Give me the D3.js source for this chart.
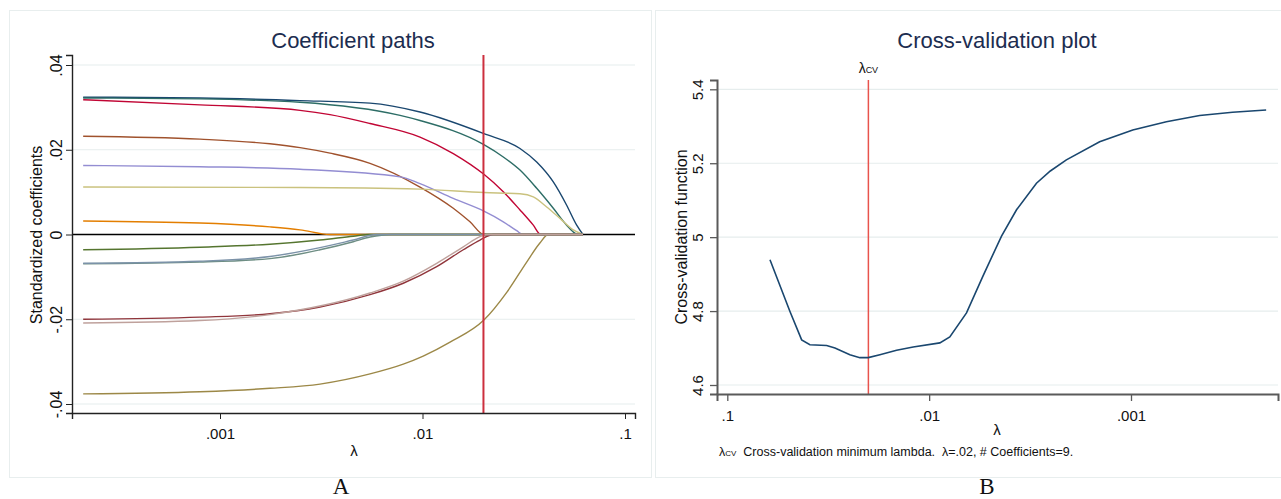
<!DOCTYPE html>
<html lang="en">
<head>
<meta charset="utf-8">
<script src="https://d3js.org/d3.v7.min.js"></script>
<title>Lasso coefficient paths and cross-validation</title>
<style>
  body { margin: 0; background: #fff; }
  svg text { font-family: "Liberation Sans", Arial, sans-serif; }
  svg text.panel-letter { font-family: "Liberation Serif", "Times New Roman", serif; }
</style>
</head>
<body>
<svg id="chart" width="1281" height="499"></svg>
<script>
// ---- data ----
// coefficient paths: [lambda, standardized coefficient]
var pathNavy = [[0.000211,0.0324],[0.000796,0.0322],[0.002484,0.0316],[0.005505,0.0310],[0.009721,0.0289],[0.0201,0.0238],[0.0303,0.0203],[0.03664,0.0171],[0.04425,0.0124],[0.05152,0.0069],[0.05773,0.0022],[0.062,0]];
var pathEmerald = [[0.000211,0.0322],[0.000796,0.0320],[0.002484,0.0312],[0.00775,0.0281],[0.009721,0.0269],[0.0201,0.0212],[0.02506,0.0183],[0.0303,0.0152],[0.03664,0.0109],[0.04425,0.0062],[0.05152,0.0022],[0.05663,0.0003],[0.0586,0],[0.062,0]];
var pathCranberry = [[0.000211,0.0318],[0.000796,0.0306],[0.002484,0.0293],[0.003493,0.0283],[0.005505,0.0262],[0.009721,0.0230],[0.01419,0.0191],[0.0201,0.0142],[0.02506,0.0101],[0.0303,0.0058],[0.03525,0.0022],[0.03835,0],[0.062,0]];
var pathSienna = [[0.000211,0.0232],[0.000796,0.0225],[0.001765,0.0214],[0.002484,0.0205],[0.003493,0.0192],[0.005505,0.0168],[0.009721,0.0112],[0.01419,0.0062],[0.01716,0.0030],[0.0201,0],[0.062,0]];
var pathLavender = [[0.000211,0.0163],[0.000796,0.0160],[0.002484,0.0154],[0.00775,0.0136],[0.009721,0.0120],[0.01419,0.0085],[0.0201,0.0055],[0.02506,0.0030],[0.02918,0.0009],[0.03134,0],[0.062,0]];
var pathKhaki = [[0.000211,0.0112],[0.002484,0.0111],[0.009721,0.0107],[0.0201,0.0099],[0.0303,0.0096],[0.03525,0.0089],[0.04105,0.0065],[0.04775,0.0038],[0.05555,0.0011],[0.062,0]];
var pathOrange = [[0.000211,0.0032],[0.000796,0.0027],[0.001765,0.0018],[0.002484,0.0011],[0.003493,0],[0.062,0]];
var pathGreen = [[0.000211,-0.0036],[0.000796,-0.0030],[0.001765,-0.0023],[0.003118,-0.0013],[0.004552,-0.0004],[0.005505,0],[0.062,0]];
var pathMaroon = [[0.000211,-0.0200],[0.000796,-0.0195],[0.001765,-0.0187],[0.003118,-0.0171],[0.005505,-0.0142],[0.008036,-0.0115],[0.01175,-0.0076],[0.0159,-0.0036],[0.01923,-0.0013],[0.02237,0],[0.062,0]];
var pathBrown = [[0.000211,-0.0376],[0.000796,-0.0371],[0.001765,-0.0363],[0.003118,-0.0353],[0.005505,-0.0329],[0.008036,-0.0306],[0.01008,-0.0287],[0.01368,-0.0254],[0.0201,-0.0202],[0.02612,-0.0136],[0.0327,-0.0065],[0.038,-0.0020],[0.0418,0],[0.062,0]];
var pathTeal = [[0.000211,-0.0069],[0.000796,-0.0065],[0.001765,-0.0057],[0.003118,-0.0036],[0.004552,-0.0017],[0.005505,-0.0006],[0.007046,0],[0.062,0]];
var pathBlue = [[0.000211,-0.0068],[0.000796,-0.0063],[0.001765,-0.0052],[0.003118,-0.0031],[0.004552,-0.0013],[0.00594,0],[0.062,0]];
var pathRose = [[0.000211,-0.0209],[0.000796,-0.0203],[0.001765,-0.0189],[0.005505,-0.0138],[0.008036,-0.0110],[0.01175,-0.0068],[0.0159,-0.0029],[0.01923,-0.0005],[0.02075,0],[0.062,0]];

var coefPaths = [pathNavy, pathEmerald, pathCranberry, pathSienna, pathLavender, pathKhaki, pathOrange, pathGreen, pathMaroon, pathBrown, pathTeal, pathBlue, pathRose];
var coefColors = ["#1a476f","#2d6d66","#c10534","#a0522d","#938dd2","#cac27e","#e37e00","#55752f","#90353b","#9c8847","#6e8e84","#7b92a8","#bfa19c"];

var coefTicks = [-0.04, -0.02, 0, 0.02, 0.04];
var coefTickLabels = ["-.04", "-.02", "0", ".02", ".04"];
var lambdaTicks = [0.001, 0.01, 0.1];
var lambdaTickLabels = [".001", ".01", ".1"];

// cross-validation function
var cvLambda = [0.06145,0.04893,0.04282,0.03897,0.03220,0.02929,0.02470,0.02204,0.02004,0.01754,0.01450,0.01200,0.00885,0.0079,0.00653,0.0054,0.00438,0.00369,0.00294,0.00251,0.00209,0.00143,0.00098,0.000668,0.000457,0.000314,0.000214];
var cvValue = [4.939,4.799,4.722,4.709,4.707,4.700,4.682,4.674,4.674,4.682,4.694,4.703,4.714,4.730,4.795,4.896,5.003,5.074,5.146,5.179,5.209,5.258,5.290,5.312,5.329,5.338,5.344];
var cvTicks = [4.6, 4.8, 5, 5.2, 5.4];
var cvTickLabels = ["4.6", "4.8", "5", "5.2", "5.4"];
var lambdaCV = 0.02;

var svg = d3.select("#chart");
var titleColor = "#1c2d50";
var gridColor = "#e6eded";

// panel frames
svg.append("rect").attr("x", 9.5).attr("y", 10.5).attr("width", 642).attr("height", 467)
   .attr("fill", "none").attr("stroke", "#e8eeee");
svg.append("rect").attr("x", 655.5).attr("y", 10.5).attr("width", 640).attr("height", 467)
   .attr("fill", "none").attr("stroke", "#e8eeee");

// ================= Panel A =================
var xA = d3.scaleLog().domain([0.001, 0.1]).range([220, 625]);
xA.domain([xA.invert(72), xA.invert(635)]).range([72, 635]);
var yA = d3.scaleLinear().domain([-0.04, 0.04]).range([404, 65]);
yA.domain([yA.invert(413), yA.invert(55)]).range([413, 55]);

var gA = svg.append("g");

gA.selectAll(".gridA").data(coefTicks).enter().append("line")
  .attr("x1", 72).attr("x2", 635)
  .attr("y1", function(d) { return yA(d); }).attr("y2", function(d) { return yA(d); })
  .attr("stroke", gridColor).attr("stroke-width", 1.2);

// zero reference line
gA.append("line").attr("x1", 72).attr("x2", 635).attr("y1", yA(0)).attr("y2", yA(0))
  .attr("stroke", "#000").attr("stroke-width", 1.6);

var lineA = d3.line()
  .x(function(d) { return xA(d[0]); })
  .y(function(d) { return yA(d[1]); })
  .curve(d3.curveMonotoneX);

gA.selectAll(".coef").data(coefPaths).enter().append("path")
  .attr("d", lineA)
  .attr("fill", "none")
  .attr("stroke", function(d, i) { return coefColors[i]; })
  .attr("stroke-width", 1.4);

// lambda CV line
gA.append("line").attr("x1", xA(lambdaCV)).attr("x2", xA(lambdaCV)).attr("y1", 55).attr("y2", 413)
  .attr("stroke", "#cc2f3e").attr("stroke-width", 2);

// axes
var yAxisA = gA.append("g").attr("transform", "translate(72,0)")
  .call(d3.axisLeft(yA).tickValues(coefTicks).tickSize(6).tickFormat(function(d, i) { return coefTickLabels[i]; }));
yAxisA.select(".domain").attr("stroke", "#222").attr("stroke-width", 1.4);
yAxisA.selectAll(".tick line").attr("stroke", "#222");
yAxisA.selectAll(".tick text")
  .attr("font-size", 16).attr("fill", "#111").attr("text-anchor", "middle")
  .attr("x", 0).attr("dy", 0)
  .attr("transform", "translate(-10,0) rotate(-90)");

var xAxisA = gA.append("g").attr("transform", "translate(0,413)")
  .call(d3.axisBottom(xA).tickValues(lambdaTicks).tickSize(6).tickFormat(function(d, i) { return lambdaTickLabels[i]; }));
xAxisA.select(".domain").attr("stroke", "#222").attr("stroke-width", 1.4);
xAxisA.selectAll(".tick line").attr("stroke", "#222");
xAxisA.selectAll(".tick text").attr("font-size", 15).attr("fill", "#111").attr("y", 15).attr("dy", "0.71em");

gA.append("text").attr("x", 353).attr("y", 48).attr("text-anchor", "middle")
  .attr("font-size", 22).attr("fill", titleColor).text("Coefficient paths");
gA.append("text").attr("transform", "translate(42,235) rotate(-90)").attr("text-anchor", "middle")
  .attr("font-size", 16).attr("fill", "#111").text("Standardized coefficients");
gA.append("text").attr("x", 354).attr("y", 456).attr("text-anchor", "middle")
  .attr("font-size", 15).attr("fill", "#111").text("λ");
gA.append("text").attr("class", "panel-letter").attr("x", 341).attr("y", 494).attr("text-anchor", "middle")
  .attr("font-size", 23).attr("fill", "#111").text("A");

// ================= Panel B =================
var xB = d3.scaleLog().domain([0.1, 0.001]).range([727.3, 1131]);
xB.domain([xB.invert(717), xB.invert(1278)]).range([717, 1278]);
var yB = d3.scaleLinear().domain([4.6, 5.4]).range([385, 89.3]);
yB.domain([yB.invert(394), yB.invert(80)]).range([394, 80]);

var gB = svg.append("g");

gB.selectAll(".gridB").data(cvTicks).enter().append("line")
  .attr("x1", 717).attr("x2", 1278)
  .attr("y1", function(d) { return yB(d); }).attr("y2", function(d) { return yB(d); })
  .attr("stroke", gridColor).attr("stroke-width", 1.2);

gB.append("line").attr("x1", xB(lambdaCV)).attr("x2", xB(lambdaCV)).attr("y1", 80).attr("y2", 394)
  .attr("stroke", "#e8534d").attr("stroke-width", 1.5);

var cvPoints = cvLambda.map(function(l, i) { return [l, cvValue[i]]; });
gB.append("path").datum(cvPoints)
  .attr("d", d3.line().x(function(d) { return xB(d[0]); }).y(function(d) { return yB(d[1]); }))
  .attr("fill", "none").attr("stroke", "#1a476f").attr("stroke-width", 1.6);

var yAxisB = gB.append("g").attr("transform", "translate(717,0)")
  .call(d3.axisLeft(yB).tickValues(cvTicks).tickSize(7).tickFormat(function(d, i) { return cvTickLabels[i]; }));
yAxisB.select(".domain").attr("stroke", "#5a5a5a").attr("stroke-width", 2);
yAxisB.selectAll(".tick line").attr("stroke", "#5a5a5a").attr("stroke-width", 1.3);
yAxisB.selectAll(".tick text")
  .attr("font-size", 15).attr("fill", "#111").attr("text-anchor", "middle")
  .attr("x", 0).attr("dy", 0)
  .attr("transform", "translate(-14,0) rotate(-90)");

var xAxisB = gB.append("g").attr("transform", "translate(0,394)")
  .call(d3.axisBottom(xB).tickValues(lambdaTicks).tickSize(7).tickFormat(function(d, i) { return lambdaTickLabels[i]; }));
xAxisB.select(".domain").attr("stroke", "#5a5a5a").attr("stroke-width", 2);
xAxisB.selectAll(".tick line").attr("stroke", "#5a5a5a").attr("stroke-width", 1.3);
xAxisB.selectAll(".tick text").attr("font-size", 15).attr("fill", "#111").attr("y", 16).attr("dy", "0.71em");

gB.append("text").attr("x", 997).attr("y", 48).attr("text-anchor", "middle")
  .attr("font-size", 22).attr("fill", titleColor).text("Cross-validation plot");
gB.append("text").attr("transform", "translate(687,237) rotate(-90)").attr("text-anchor", "middle")
  .attr("font-size", 16).attr("fill", "#111").text("Cross-validation function");
gB.append("text").attr("x", 997).attr("y", 435).attr("text-anchor", "middle")
  .attr("font-size", 15).attr("fill", "#111").text("λ");

var cvLabel = gB.append("text").attr("x", xB(lambdaCV)).attr("y", 73).attr("text-anchor", "middle")
  .attr("font-size", 14).attr("fill", "#111");
cvLabel.append("tspan").text("λ");
cvLabel.append("tspan").attr("font-size", 9).text("CV");

var note = gB.append("text").attr("x", 719).attr("y", 456).attr("font-size", 12.5).attr("fill", "#111");
note.append("tspan").text("λ");
note.append("tspan").attr("font-size", 8).text("CV");
note.append("tspan").attr("xml:space", "preserve").text("  Cross-validation minimum lambda.  λ=.02, # Coefficients=9.");

gB.append("text").attr("class", "panel-letter").attr("x", 987).attr("y", 494).attr("text-anchor", "middle")
  .attr("font-size", 23).attr("fill", "#111").text("B");
</script>
</body>
</html>
